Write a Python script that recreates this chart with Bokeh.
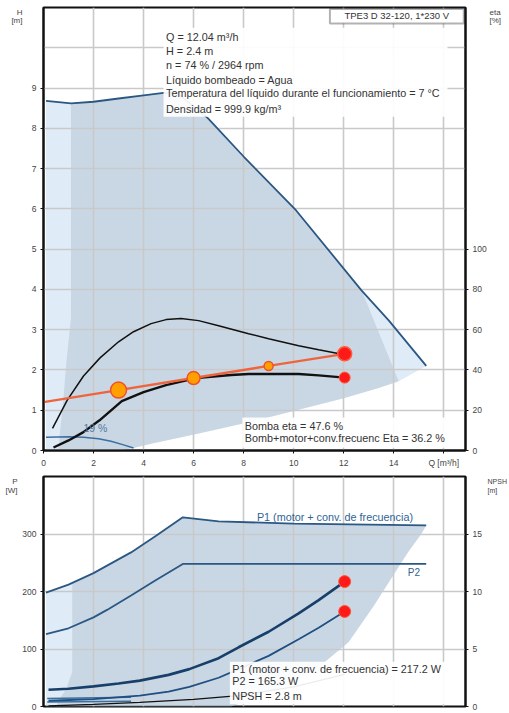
from bokeh.plotting import figure
from bokeh.models import Range1d, LinearAxis, FixedTicker, Label, BoxAnnotation
from bokeh.layouts import column
from bokeh.embed import file_html
from bokeh.resources import INLINE

FONT = "Liberation Sans"

# ---------------- data: upper chart (Q m3/h, H m, eta %) ----------------
q_max = [0.1, 1.1, 2, 3, 4, 4.8, 5.3, 6.56, 8, 10.1, 12.72, 13.8, 15.3]
h_max = [8.68, 8.62, 8.66, 8.74, 8.82, 8.88, 8.9, 8.26, 7.3, 5.96, 3.97, 3.23, 2.1]

q_low = [15.3, 14.2, 13.4, 12, 10, 8.2, 6.2, 4.3, 3.6, 3.0]
h_low = [2.1, 1.72, 1.55, 1.3, 0.98, 0.7, 0.42, 0.17, 0.06, 0.0]

q_dark_left = [1.1, 1.1, 0.9, 0.8, 0.65, 0.6]
h_dark_left = [8.62, 3.3, 2.1, 1.3, 0.4, 0.0]
q_dark_right = [12.72, 14.2]
h_dark_right = [3.97, 1.72]

q_eta_pump = [0.36, 0.95, 1.6, 2.26, 3, 3.6, 4.3, 4.9, 5.5, 6.2, 7, 8.2, 9, 10.2, 11, 12.04]
eta_pump = [11, 25, 37, 46, 54, 59, 63, 65, 65.6, 64.5, 62, 58, 55.5, 52, 50, 47.6]

q_eta_tot = [0.4, 1, 1.58, 2.24, 3.13, 4, 4.9, 6.1, 7.5, 8.2, 9, 10.2, 11, 12.04]
eta_tot = [1.5, 5, 9, 15, 24.5, 29, 32.5, 36, 37.5, 38, 38, 38, 37.3, 36.2]

q_eta_min = [0.1, 1, 1.6, 2.2, 2.7, 3.2, 3.6]
eta_min = [6.6, 6.8, 6.6, 5.8, 4.6, 2.8, 1.2]

q_sys = [0, 3, 6, 9, 12.04]
h_sys = [1.2, 1.5, 1.8, 2.1, 2.4]

info_lines = [
    "Q = 12.04 m\u00b3/h",
    "H = 2.4 m",
    "n = 74 % / 2964 rpm",
    "L\u00edquido bombeado = Agua",
    "Temperatura del l\u00edquido durante el funcionamiento = 7 \u00b0C",
    "Densidad = 999.9 kg/m\u00b3",
]
title_text = "TPE3 D 32-120, 1*230 V"
eta_lines = ["Bomba eta = 47.6 %", "Bomb+motor+conv.frecuenc Eta = 36.2 %"]

x_ticks = [0, 2, 4, 6, 8, 10, 12, 14, 16]
h_ticks = [0, 1, 2, 3, 4, 5, 6, 7, 8, 9]
eta_ticks = [0, 20, 40, 60, 80, 100]
h_unit = ["H", "[m]"]
eta_unit = ["eta", "[%]"]

# ---------------- data: lower chart (P W, NPSH m) ----------------
q_p1max = [0.1, 1, 2, 2.54, 3.5, 4.5, 5.57, 7, 10, 15.3]
p1max = [198, 212, 232, 245, 268, 297, 329, 322, 318, 315]
q_p2max = [0.1, 1, 2, 2.54, 3.5, 4.5, 5.57, 15.3]
p2max = [126, 136, 155, 168, 193, 220, 248, 248]

q_p_low = [15.3, 15.1, 14.6, 14.2, 13.2, 12.2, 10.9, 9.4, 8.3, 7.5]
p_low = [315, 300, 270, 243, 175, 112, 65, 31, 12, 0]
q_pdark_left = [1.15, 1.15, 0.9, 0.6, 0.5]
p_pdark_left = [214, 60, 30, 10, 0]

q_p1 = [0.2, 1, 2, 3, 3.85, 5, 5.83, 7, 7.8, 9, 10.2, 11, 12.04]
p1 = [29, 31, 35, 40, 45, 55, 65, 84, 103, 130, 162, 185, 217.2]
q_p2 = [0.2, 2, 3.85, 5, 5.83, 7, 7.8, 9, 10.2, 11, 12.04]
p2 = [10, 13, 19, 26, 34, 50, 65, 88, 117, 137, 165.3]
q_pmin = [0.15, 3.5]
p1min = [14, 16]
p2min = [8, 9]
q_npsh = [0.2, 2, 3.85, 6, 7.8, 10, 12.04]
npsh = [0.05, 0.18, 0.35, 0.62, 0.95, 1.7, 2.8]

p_lines = ["P1 (motor + conv. de frecuencia) = 217.2 W", "P2 = 165.3 W", "NPSH = 2.8 m"]
p_ticks = [0, 100, 200, 300]
npsh_ticks = [0, 5, 10, 15]
p_unit = ["P", "[W]"]
npsh_unit = ["NPSH", "[m]"]

# ---------------- styles ----------------
LIGHT = "#b8d3ed"   # translucent so the grid stays visible
DARK = "#b0bfcd"
SHADE_A = 0.45
CURVE = "#2b5783"
GRID = "#c9c9c9"
TXT = "#333333"
BLUE_TXT = "#2f6496"
W = 509


def style_axis(ax):
    ax.axis_line_width = 2
    ax.axis_line_color = "#111111"
    ax.major_tick_out = 3
    ax.major_tick_in = 0
    ax.major_tick_line_color = "#111111"
    ax.minor_tick_line_color = None
    ax.major_label_text_font = FONT
    ax.major_label_text_font_size = "8.5px"
    ax.major_label_text_color = "#444444"
    ax.major_label_standoff = 4


def unit_axis(fig, side, ticks, labels, standoff, size="8px", range_name="default"):
    ax = LinearAxis(y_range_name=range_name, ticker=FixedTicker(ticks=ticks),
                    major_label_overrides=dict(zip(ticks, labels)))
    ax.axis_line_color = None
    ax.major_tick_line_color = None
    ax.minor_tick_line_color = None
    ax.major_tick_out = 0
    ax.major_tick_in = 0
    ax.major_label_standoff = standoff
    ax.major_label_text_font = FONT
    ax.major_label_text_font_size = size
    ax.major_label_text_color = "#444444"
    fig.add_layout(ax, side)


def txt(p, x, y, text, size="10.8px", color=TXT, align="left", y_range_name="default"):
    p.add_layout(Label(x=x, y=y, text=text, text_font=FONT, text_font_size=size,
                       text_color=color, text_align=align, text_baseline="middle",
                       y_range_name=y_range_name))


def style_grid(fig):
    for g in (fig.xgrid[0], fig.ygrid[0]):
        g.grid_line_color = GRID
        g.grid_line_width = 1.6


# ================= upper chart =================
X_END = 16.87
p = figure(width=W, height=470, x_range=Range1d(0, X_END), y_range=Range1d(0, 11),
           output_backend="svg", toolbar_location=None,
           min_border_left=43, min_border_right=W - 468, min_border_top=7, min_border_bottom=20)
p.extra_y_ranges = {"eta": Range1d(0, 220)}
p.outline_line_color = "#111111"
p.outline_line_width = 2

p.xaxis.ticker = FixedTicker(ticks=x_ticks)
p.xaxis.major_label_overrides = {16: "Q [m\u00b3/h]"}
p.yaxis.ticker = FixedTicker(ticks=h_ticks)
style_axis(p.xaxis[0])
style_axis(p.yaxis[0])
eta_ax = LinearAxis(y_range_name="eta", ticker=FixedTicker(ticks=eta_ticks))
style_axis(eta_ax)
p.add_layout(eta_ax, "right")
unit_axis(p, "left", [10.87, 10.67], h_unit, 6)
unit_axis(p, "right", [217.4, 213.4], eta_unit, 0, range_name="eta")

p.xgrid.ticker = FixedTicker(ticks=x_ticks[1:])
p.ygrid.ticker = FixedTicker(ticks=list(range(1, 11)))
style_grid(p)

# shaded operating ranges
light_x = [q_max[0]] + q_max + q_low
light_y = [0] + h_max + h_low
p.patch(light_x, light_y, fill_color=LIGHT, fill_alpha=SHADE_A, line_color=None, level="underlay")
top_idx = [i for i, q in enumerate(q_max) if q_dark_left[0] <= q <= q_dark_right[0]]
low_idx = [i for i, q in enumerate(q_low) if q <= q_dark_right[-1]]
dark_x = [q_max[i] for i in top_idx] + q_dark_right[1:] + [q_low[i] for i in low_idx[1:]] + q_dark_left[::-1]
dark_y = [h_max[i] for i in top_idx] + h_dark_right[1:] + [h_low[i] for i in low_idx[1:]] + h_dark_left[::-1]
p.patch(dark_x, dark_y, fill_color=DARK, fill_alpha=SHADE_A, line_color=None, level="underlay")

p.line(q_max, h_max, line_color=CURVE, line_width=1.8)
p.line(q_eta_min, eta_min, y_range_name="eta", line_color="#3c6f9f", line_width=1.5)
p.line(q_eta_pump, eta_pump, y_range_name="eta", line_color="#111111", line_width=1.5)
p.line(q_eta_tot, eta_tot, y_range_name="eta", line_color="#111111", line_width=2.4)
p.line(q_sys, h_sys, line_color="#f0643c", line_width=2.4)
p.scatter(q_sys[1:4], h_sys[1:4], size=[16, 13, 9], fill_color="#ffa000",
          line_color="#f0502a", line_width=1.5)
p.scatter([q_sys[-1]], [h_sys[-1]], size=14, fill_color="#ff1a1a", line_color="#ff5a3c", line_width=1.5)
p.scatter([q_eta_tot[-1]], [eta_tot[-1]], y_range_name="eta", size=11,
          fill_color="#ff1a1a", line_color="#ff5a3c", line_width=1)

# annotation boxes
p.add_layout(BoxAnnotation(left=4.8, right=16.15, bottom=8.29, top=10.5,
                           fill_color="white", fill_alpha=0.92, line_color=None))
for i, t in enumerate(info_lines):
    txt(p, 4.9, [10.26, 9.91, 9.56, 9.21, 8.87, 8.49][i], t)
p.add_layout(BoxAnnotation(left=11.45, right=16.8, bottom=10.6, top=10.96,
                           fill_color="white", fill_alpha=1, line_color="#000000", line_width=2))
txt(p, 14.12, 10.79, title_text, size="9.5px", align="center")
p.add_layout(BoxAnnotation(left=7.95, right=16.6, bottom=0.07, top=0.82,
                           fill_color="white", fill_alpha=0.9, line_color=None))
txt(p, 8.05, 0.62, eta_lines[0])
txt(p, 8.05, 0.30, eta_lines[1])
txt(p, 1.6, 0.55, "19 %", size="10.5px", color="#55789c")

# ================= lower chart =================
p2f = figure(width=W, height=242, x_range=p.x_range, y_range=Range1d(0, 400),
             output_backend="svg", toolbar_location=None,
             min_border_left=43, min_border_right=W - 468, min_border_top=6, min_border_bottom=6)
p2f.extra_y_ranges = {"npsh": Range1d(0, 20)}
p2f.outline_line_color = "#111111"
p2f.outline_line_width = 2
p2f.xaxis.visible = False
p2f.xaxis.ticker = FixedTicker(ticks=x_ticks)
p2f.yaxis.ticker = FixedTicker(ticks=p_ticks)
style_axis(p2f.yaxis[0])
npsh_ax = LinearAxis(y_range_name="npsh", ticker=FixedTicker(ticks=npsh_ticks))
style_axis(npsh_ax)
p2f.add_layout(npsh_ax, "right")
unit_axis(p2f, "left", [391, 375], p_unit, 2)
unit_axis(p2f, "right", [19.55, 18.75], npsh_unit, 3, size="7px", range_name="npsh")
p2f.xgrid.ticker = FixedTicker(ticks=x_ticks[1:])
p2f.ygrid.ticker = FixedTicker(ticks=p_ticks[1:])
style_grid(p2f)

lx = [q_p1max[0]] + q_p1max + q_p_low
ly = [0] + p1max + p_low
p2f.patch(lx, ly, fill_color=LIGHT, fill_alpha=SHADE_A, line_color=None, level="underlay")
top_i = [i for i, q in enumerate(q_p1max) if q >= q_pdark_left[0]]
dx = [q_p1max[i] for i in top_i] + q_p_low[1:] + q_pdark_left[::-1]
dy = [p1max[i] for i in top_i] + p_low[1:] + p_pdark_left[::-1]
p2f.patch(dx, dy, fill_color=DARK, fill_alpha=SHADE_A, line_color=None, level="underlay")

p2f.line(q_p1max, p1max, line_color=CURVE, line_width=1.8)
p2f.line(q_p2max, p2max, line_color=CURVE, line_width=1.8)
p2f.line(q_pmin, p1min, line_color="#3c6f9f", line_width=1.5)
p2f.line(q_pmin, p2min, line_color="#3c6f9f", line_width=1.5)
p2f.line(q_p1, p1, line_color="#173f6a", line_width=2.6)
p2f.line(q_p2, p2, line_color="#1f4f80", line_width=1.8)
p2f.line(q_npsh, npsh, y_range_name="npsh", line_color="#111111", line_width=1.3)
p2f.scatter([q_p1[-1], q_p2[-1]], [p1[-1], p2[-1]], size=12, fill_color="#ff1a1a",
            line_color="#ff5a3c", line_width=1)

txt(p2f, 8.53, 329, "P1 (motor + conv. de frecuencia)", size="10.8px", color=BLUE_TXT)
txt(p2f, 14.56, 233, "P2", size="10px", color=BLUE_TXT)
p2f.add_layout(BoxAnnotation(left=7.45, right=16.6, bottom=4, top=78,
                             fill_color="white", fill_alpha=0.92, line_color=None))
for i, t in enumerate(p_lines):
    txt(p2f, 7.55, [66, 43.5, 19][i], t)

layout = column(p, p2f, spacing=0)
open("out.html", "w").write(file_html(layout, INLINE))
